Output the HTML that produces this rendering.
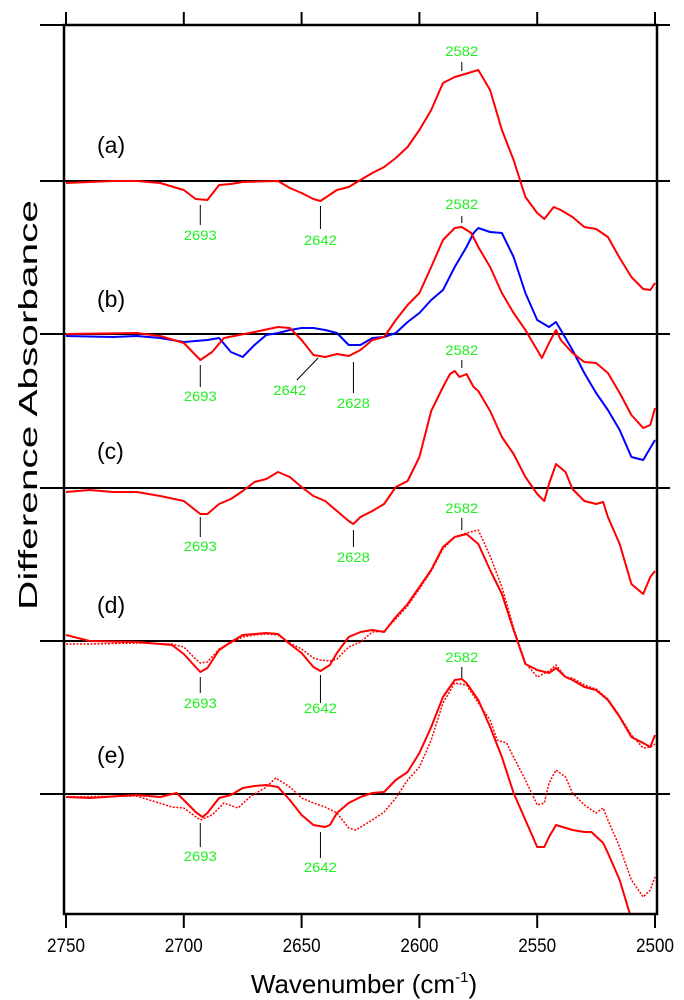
<!DOCTYPE html>
<html><head><meta charset="utf-8"><style>
html,body{margin:0;padding:0;background:#fff;}
svg{display:block;font-family:"Liberation Sans",sans-serif;}
</style></head><body>
<svg id="chart" width="684" height="1000" viewBox="0 0 684 1000" xmlns="http://www.w3.org/2000/svg">
<g id="baselines"></g><g id="series"></g><g id="annots"></g><g id="axes"></g>
</svg>
<script>
const wnTicks=[2750,2700,2650,2600,2550,2500];
const panelNames=["(a)","(b)","(c)","(d)","(e)"];
const aWn=[2750,2730,2720,2710,2700,2695,2690,2685,2680,2675,2660,2655,2650,2645,2642,2635,2630,2625,2620,2615,2610,2605,2600,2595,2590,2585,2582,2575,2570,2565,2560,2555,2550,2547,2543,2540,2535,2530,2525,2520,2515,2510,2505,2502,2500];
const aVal=[-2,0,0,-2,-9,-18,-19,-4,-3,-1,0,-7,-12,-18,-20,-9,-6,1,8,14,23,34,51,71,98,104,106,111,91,51,21,-16,-32,-38,-26,-29,-36,-46,-48,-56,-77,-96,-108,-109,-102];
const bRedWn=[2750,2720,2710,2700,2693,2688,2683,2670,2660,2655,2650,2645,2640,2635,2630,2625,2620,2615,2610,2605,2600,2595,2590,2585,2582,2578,2575,2570,2565,2560,2555,2550,2548,2545,2542,2540,2535,2530,2525,2520,2515,2510,2505,2502,2500];
const bRedVal=[0,1,-2,-9,-26,-18,-4,2,7,6,-6,-21,-23,-20,-22,-16,-6,-3,14,29,41,67,94,106,107,101,87,67,41,21,4,-16,-24,-9,4,-6,-19,-28,-29,-39,-59,-81,-94,-91,-74];
const bBlueWn=[2750,2730,2720,2710,2700,2690,2685,2680,2675,2670,2665,2660,2655,2650,2645,2640,2635,2630,2625,2620,2615,2610,2605,2600,2595,2590,2585,2580,2577,2575,2570,2565,2560,2555,2550,2545,2542,2540,2535,2530,2525,2520,2515,2510,2505,2500];
const bBlueVal=[-2,-3,-2,-4,-8,-6,-4,-18,-23,-11,-1,1,4,6,6,4,1,-11,-11,-4,-3,1,12,21,34,44,67,87,101,106,102,101,77,41,14,7,12,4,-16,-39,-59,-76,-96,-123,-126,-106];
const cWn=[2750,2740,2730,2720,2710,2700,2693,2690,2685,2680,2675,2670,2665,2660,2655,2650,2645,2640,2635,2630,2628,2625,2620,2615,2610,2605,2600,2595,2590,2587,2585,2583,2580,2577,2575,2570,2565,2560,2555,2550,2547,2545,2542,2538,2535,2530,2525,2522,2520,2515,2510,2505,2502,2500];
const cVal=[-4,-2,-4,-4,-8,-13,-26,-26,-16,-11,-3,6,9,16,11,1,-8,-13,-23,-33,-36,-29,-23,-16,1,7,31,77,101,114,117,111,114,101,97,77,51,34,11,-6,-13,4,24,16,-1,-13,-16,-14,-29,-56,-96,-106,-89,-83];
const dWn=[2750,2740,2720,2705,2700,2695,2693,2690,2685,2680,2675,2670,2665,2660,2655,2650,2645,2642,2638,2635,2630,2625,2620,2615,2610,2605,2600,2595,2590,2585,2580,2575,2570,2565,2560,2555,2550,2545,2542,2538,2535,2530,2525,2520,2515,2510,2505,2502,2500];
const dSolid=[6,0,-1,-4,-13,-26,-31,-27,-9,-1,6,7,8,7,-3,-12,-26,-30,-24,-12,4,9,11,9,24,37,54,71,94,104,107,97,71,47,11,-23,-29,-32,-27,-36,-39,-46,-49,-59,-76,-96,-102,-106,-94];
const dDotted=[-3,-3,-2,-3,-6,-18,-22,-21,-8,-2,4,6,7,6,-2,-8,-17,-19,-20,-18,-6,-1,9,10,22,35,52,70,92,104,108,111,85,54,13,-22,-36,-30,-24,-36,-37,-44,-48,-58,-75,-94,-107,-106,-103];
const eWn=[2750,2740,2720,2710,2703,2700,2695,2692,2690,2685,2680,2675,2670,2665,2660,2655,2650,2645,2640,2638,2635,2630,2625,2620,2615,2610,2605,2600,2595,2590,2585,2582,2580,2575,2570,2565,2560,2555,2550,2547,2545,2542,2535,2530,2527,2522,2520,2515,2510,2505];
const eSolid=[-3,-4,-1,-3,1,-6,-18,-23,-19,-4,-1,6,8,9,7,-6,-21,-31,-33,-31,-19,-9,-3,1,2,14,22,41,67,97,114,115,111,94,67,37,1,-26,-53,-53,-43,-31,-36,-38,-38,-49,-59,-86,-125,-150];
const eDotWn=[2750,2720,2705,2700,2693,2688,2683,2677,2672,2665,2661,2655,2650,2645,2640,2635,2630,2627,2620,2615,2610,2605,2600,2595,2590,2585,2580,2575,2570,2567,2563,2560,2555,2550,2547,2545,2542,2538,2535,2530,2525,2522,2520,2515,2510,2505,2502,2500];
const eDotted=[-3,-2,-13,-14,-26,-21,-9,-14,-3,7,16,7,-4,-9,-13,-19,-34,-36,-26,-18,-4,14,27,54,91,111,109,91,74,54,51,37,14,-11,-9,11,24,17,1,-11,-19,-14,-26,-53,-86,-103,-96,-83];

const NS="http://www.w3.org/2000/svg";
const X0=66,X1=655,TOP=25,BOT=914;
const baseY=[181,334,488,641,794];
function xs(w){return X0+(2750-w)*(X1-X0)/250;}
function ys(p,v){return baseY[p]-v;}
function mk(tag,attrs,parent){const e=document.createElementNS(NS,tag);for(const k in attrs)e.setAttribute(k,attrs[k]);parent.appendChild(e);return e;}
const G=id=>document.getElementById(id);
const svg=G('chart');
const defs=mk('defs',{},svg);const cp=mk('clipPath',{id:'clip'},defs);mk('rect',{x:X0,y:TOP,width:X1-X0+2,height:BOT-TOP},cp);
G('series').setAttribute('clip-path','url(#clip)');

baseY.forEach((y,i)=>{
  const l=mk('line',{x1:40,x2:670,y1:y,y2:y,stroke:'#000','stroke-width':2},G('baselines'));
  
  
});
function series(p,wn,val,color,name,dotted){
  const d=wn.map((w,i)=>(i?'L':'M')+xs(w).toFixed(1)+' '+ys(p,val[i]).toFixed(1)).join(' ');
  const a={d:d,fill:'none',stroke:color,'stroke-width':dotted?1.5:2,'stroke-linejoin':'round'};
  if(dotted)a['stroke-dasharray']='2,1.5';
  const e=mk('path',a,G('series'));
  
  
}
series(0,aWn,aVal,'#ff0000','spectrum-a');
series(1,bBlueWn,bBlueVal,'#0000ff','spectrum-b-blue');
series(1,bRedWn,bRedVal,'#ff0000','spectrum-b-red');
series(2,cWn,cVal,'#ff0000','spectrum-c');
series(3,dWn,dDotted,'#ff0000','spectrum-d-dotted',true);
series(3,dWn,dSolid,'#ff0000','spectrum-d-solid');
series(4,eDotWn,eDotted,'#ff0000','spectrum-e-dotted',true);
series(4,eWn,eSolid,'#ff0000','spectrum-e-solid');

const ann=[["2582",2582,56,62,71],["2693",2693,240,205,225],["2642",2642,245,206,229],
["2582",2582,209,216,223],["2693",2693,401,365,387],["2628",2628,408,362,393],
["2582",2582,355,360,368],["2693",2693,551,517,537],["2628",2628,562,530,547],
["2582",2582,513,518,530],["2693",2693,708,677,693],["2642",2642,713,675,703],
["2582",2582,662,667,678],["2693",2693,861,823,847],["2642",2642,872,832,858]];
ann.forEach((a,i)=>{
  const x=xs(a[1]);
  const l=mk('line',{x1:x,x2:x,y1:a[3],y2:a[4],stroke:'#000','stroke-width':1},G('annots'));
  
  
  const t=mk('text',{x:x,y:a[2],'text-anchor':'middle','font-size':14,fill:'#22ee22',textLength:33,lengthAdjust:'spacingAndGlyphs'},G('annots'));
  t.textContent=a[0];
  
  
});
{const l=mk('line',{x1:xs(2643),y1:358,x2:xs(2652),y2:380,stroke:'#000','stroke-width':1},G('annots'));


const t=mk('text',{x:xs(2655),y:395,'text-anchor':'middle','font-size':14,fill:'#22ee22',textLength:33,lengthAdjust:'spacingAndGlyphs'},G('annots'));t.textContent='2642';

}

const pl=[153,307,459,613,763];
panelNames.forEach((n,i)=>{
  const t=mk('text',{x:97,y:pl[i],'font-size':23,fill:'#000'},G('annots'));t.textContent=n;
  
  
});

const ax=G('axes');
const fr=mk('rect',{x:X0-2,y:TOP,width:X1-X0+4,height:BOT-TOP,fill:'none',stroke:'#000','stroke-width':2.5},ax);


mk('line',{x1:40,x2:64,y1:TOP,y2:TOP,stroke:'#000','stroke-width':2},ax);
mk('line',{x1:657,x2:670,y1:TOP,y2:TOP,stroke:'#000','stroke-width':2},ax);
wnTicks.forEach(w=>{
  const x=xs(w);
  mk('line',{x1:x,x2:x,y1:12,y2:TOP,stroke:'#000','stroke-width':2},ax);
  mk('line',{x1:x,x2:x,y1:BOT,y2:928,stroke:'#000','stroke-width':2},ax);
  const t=mk('text',{x:x,y:952,'text-anchor':'middle','font-size':19,fill:'#000',textLength:38,lengthAdjust:'spacingAndGlyphs'},ax);
  t.textContent=w;
  
  
});
const xt=mk('text',{x:364,y:993,'text-anchor':'middle','font-size':26,fill:'#000'},ax);
xt.innerHTML='Wavenumber (cm<tspan dy="-11" font-size="15">-1</tspan><tspan dy="11">)</tspan>';


const yt=mk('text',{x:0,y:0,'text-anchor':'middle','font-size':26,fill:'#000',transform:'translate(37,405) rotate(-90)',textLength:410,lengthAdjust:'spacingAndGlyphs'},ax);
yt.textContent='Difference Absorbance';


</script>
</body></html>
